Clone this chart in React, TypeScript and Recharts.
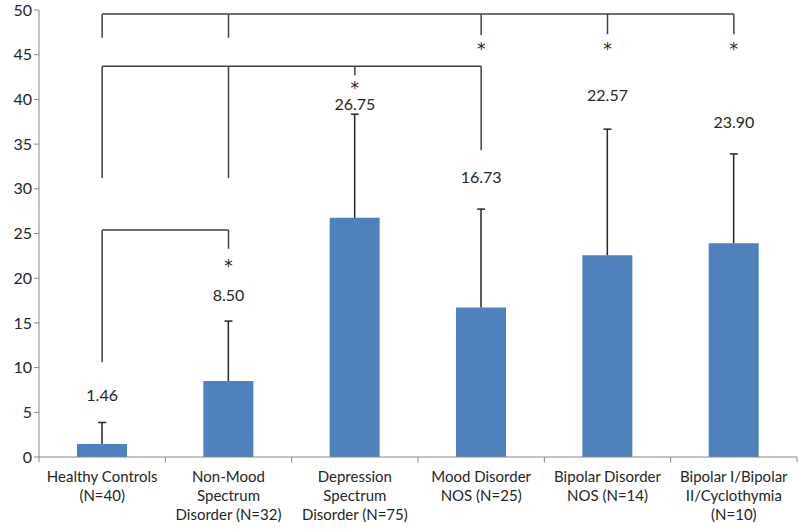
import React from 'react';
import { ComposedChart, Bar, Line, XAxis, YAxis, ErrorBar, ReferenceLine, ReferenceDot } from 'recharts';

// how each category label wraps under the axis
const categoryLines = [
  ['Healthy Controls', '(N=40)'],
  ['Non-Mood', 'Spectrum', 'Disorder (N=32)'],
  ['Depression', 'Spectrum', 'Disorder (N=75)'],
  ['Mood Disorder', 'NOS (N=25)'],
  ['Bipolar Disorder', 'NOS (N=14)'],
  ['Bipolar I/Bipolar', 'II/Cyclothymia', '(N=10)'],
];
const means = [1.46, 8.5, 26.75, 16.73, 22.57, 23.9];
const errUp = [2.4, 6.7, 11.6, 11.0, 14.1, 10.0];
const meanLabels = ['1.46', '8.50', '26.75', '16.73', '22.57', '23.90'];
const meanLabelY = [6.9, 18.1, 39.5, 31.3, 40.5, 37.4];
const yTicks = [0, 5, 10, 15, 20, 25, 30, 35, 40, 45, 50];
const xTicks = [0, 1, 2, 3, 4, 5];
const separators = [-0.5, 0.5, 1.5, 2.5, 3.5, 4.5, 5.5];

// significance brackets: bar y, then [category index, drop-to y]
const brackets = [
  { y: 49.55, drops: [[0, 46.9], [1, 46.9], [3, 47.2], [4, 47.3], [5, 47.3]] },
  { y: 43.7, drops: [[0, 31.2], [1, 31.2], [2, 42.7], [3, 34.3]] },
  { y: 25.4, drops: [[0, 10.6], [1, 23.3]] },
];
const stars = [[1, 21.7], [2, 41.6], [3, 46.0], [4, 46.0], [5, 46.0]];

const data = means.map((m, i) => ({ idx: i, mean: m, err: [0, errUp[i]], top: m + errUp[i] }));

const FONT = 'Lato, "Open Sans", sans-serif';
const INK = '#262626';
const LINE = '#404040';
const AXIS = '#868686';

const CategoryTick = (props: any) => {
  const { x, y, payload } = props;
  const lines = categoryLines[payload.value] || [];
  return (
    <text x={x} y={y} textAnchor="middle" fill={INK} fontSize={15} fontFamily={FONT}>
      {lines.map((l, i) => (
        <tspan key={i} x={x} dy={i === 0 ? 17 : 19}>{l}</tspan>
      ))}
    </text>
  );
};

// top cap of the error bar
const Cap = (props: any) => {
  const { cx, cy } = props;
  if (cx == null || cy == null) return null;
  return <line x1={cx - 4} x2={cx + 4} y1={cy} y2={cy} stroke={INK} strokeWidth={1.5} />;
};

export default function App() {
  return (
    <div style={{ position: 'absolute', left: 0, top: 0, background: '#fff' }}>
      <ComposedChart width={800} height={531} data={data} margin={{ top: 10, right: 3, left: 0, bottom: 0 }}>
        <XAxis
          dataKey="idx"
          type="number"
          domain={[-0.5, 5.5]}
          ticks={xTicks}
          interval={0}
          tickLine={false}
          stroke={AXIS}
          height={74}
          tick={<CategoryTick />}
        />
        <YAxis
          domain={[0, 50]}
          ticks={yTicks}
          width={39}
          tickSize={5}
          stroke={AXIS}
          tick={{ fill: INK, fontSize: 16, fontFamily: FONT }}
        />
        <Bar dataKey="mean" fill="#4F81BD" barSize={50} isAnimationActive={false}>
          <ErrorBar dataKey="err" width={0} stroke={INK} strokeWidth={1.5} direction="y" />
        </Bar>
        <Line dataKey="top" stroke="none" dot={<Cap />} activeDot={false} isAnimationActive={false} />
        {separators.map((s) => (
          <ReferenceLine
            key={'sep' + s}
            segment={[{ x: s, y: 0 }, { x: s, y: -0.6 }]}
            stroke={AXIS}
            ifOverflow="visible"
          />
        ))}
        {brackets.map((b, bi) => {
          const xs = b.drops.map((d) => d[0]);
          const lo = Math.min(...xs);
          const hi = Math.max(...xs);
          return (
            <React.Fragment key={bi}>
              <ReferenceLine
                segment={[{ x: lo, y: b.y }, { x: hi, y: b.y }]}
                stroke={LINE}
                strokeWidth={1.5}
              />
              {b.drops.map((d, di) => (
                <ReferenceLine
                  key={di}
                  segment={[{ x: d[0], y: b.y }, { x: d[0], y: d[1] }]}
                  stroke={LINE}
                  strokeWidth={1.5}
                />
              ))}
            </React.Fragment>
          );
        })}
        {stars.map((s, i) => (
          <ReferenceDot
            key={'s' + i}
            x={s[0]}
            y={s[1]}
            r={0}
            fill="none"
            stroke="none"
            label={{ value: '*', position: 'center', fill: INK, fontSize: 17, fontFamily: '"DejaVu Sans", sans-serif', dy: 3 }}
          />
        ))}
        {meanLabels.map((t, i) => (
          <ReferenceDot
            key={'m' + i}
            x={i}
            y={meanLabelY[i]}
            r={0}
            fill="none"
            stroke="none"
            label={{ value: t, position: 'center', fill: INK, fontSize: 16, fontFamily: FONT }}
          />
        ))}
      </ComposedChart>
    </div>
  );
}
